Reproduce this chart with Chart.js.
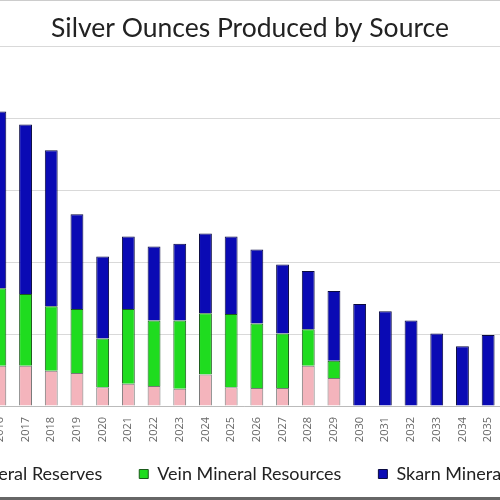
<!DOCTYPE html>
<html>
<head>
<meta charset="utf-8">
<script src="https://cdn.jsdelivr.net/npm/chart.js@4.4.1/dist/chart.umd.min.js"></script>
<style>
    html, body { margin: 0; padding: 0; background: #fff; overflow: hidden; }
    #frame { position: relative; width: 500px; height: 500px; overflow: hidden; border-top: 1px solid #ccc; box-sizing: border-box; border-bottom: 3px solid #666; }
    #wrap { position: absolute; left: -130px; top: 0; width: 760px; height: 492px; }
</style>
</head>
<body>
<div id="frame">
    <div id="wrap"><canvas id="silverChart" width="760" height="492"></canvas></div>
</div>
<script>
    // Years along the bottom (chart is cropped at both sides)
    const years = ['2016', '2017', '2018', '2019', '2020', '2021', '2022', '2023', '2024', '2025',
                   '2026', '2027', '2028', '2029', '2030', '2031', '2032', '2033', '2034', '2035'];

    // Ounces, in millions (y labels are cut off)
    const veinReserves  = [0.56, 0.56, 0.49, 0.46, 0.26, 0.31, 0.28, 0.24, 0.44, 0.26,
                           0.25, 0.25, 0.56, 0.39, 0, 0, 0, 0, 0, 0];
    const veinResources = [1.08, 1.00, 0.90, 0.89, 0.68, 1.04, 0.91, 0.95, 0.85, 1.02,
                           0.90, 0.76, 0.51, 0.24, 0, 0, 0, 0, 0, 0];
    const skarnResources = [2.46, 2.36, 2.17, 1.32, 1.14, 1.01, 1.03, 1.07, 1.11, 1.08,
                            1.03, 0.96, 0.81, 0.97, 1.42, 1.32, 1.19, 1.01, 0.83, 0.99];

    // x axis box is kept short so the legend sits close; let its labels draw below it
    const labelRoom = {
        id: 'labelRoom',
        afterLayout: function(chart) {
            chart.scales.x.bottom = chart.scales.x.top + 45;
        }
    };

    const ctx = document.getElementById('silverChart').getContext('2d');
    const silverChart = new Chart(ctx, {
        type: 'bar',
        data: {
            labels: years,
            datasets: [
                {
                    label: 'Vein Mineral Reserves',
                    data: veinReserves,
                    backgroundColor: '#f4b4bc',
                    borderColor: '#777',
                    borderWidth: 1
                },
                {
                    label: 'Vein Mineral Resources',
                    data: veinResources,
                    backgroundColor: '#1fdc1f',
                    borderColor: '#1a5a1a',
                    borderWidth: 1
                },
                {
                    label: 'Skarn Mineral Resources',
                    data: skarnResources,
                    backgroundColor: '#0a0ab4',
                    borderColor: '#0a0a40',
                    borderWidth: 1
                }
            ]
        },
        options: {
            responsive: false,
            animation: false,
            layout: {
                padding: { left: 0, right: 0, top: 0, bottom: 0 }
            },
            datasets: {
                bar: { categoryPercentage: 1, barPercentage: 0.5 }
            },
            plugins: {
                title: {
                    display: true,
                    text: 'Silver Ounces Produced by Source',
                    color: '#222',
                    font: { family: 'Lato', size: 26.5, weight: 'normal' },
                    padding: { top: 12, bottom: 2 }
                },
                legend: {
                    position: 'bottom',
                    labels: {
                        color: '#222',
                        font: { family: 'Lato', size: 18 },
                        boxWidth: 9,
                        boxHeight: 9,
                        padding: 37
                    }
                },
                tooltip: { enabled: false }
            },
            scales: {
                x: {
                    stacked: true,
                    grid: { display: false },
                    border: { color: '#bbb' },
                    ticks: {
                        color: '#666',
                        font: { family: 'Open Sans', size: 11 },
                        minRotation: 90,
                        maxRotation: 90,
                        autoSkip: false
                    },
                    afterFit: function(scale) { scale.height = 22; }
                },
                y: {
                    stacked: true,
                    min: 0,
                    max: 5,
                    ticks: { display: false, stepSize: 1 },
                    grid: { color: '#d9d9d9', drawTicks: false },
                    border: { display: false },
                    // left part of the chart is cut off in the picture
                    afterFit: function(scale) { scale.width = 117; }
                },
                yRight: {
                    position: 'right',
                    display: true,
                    grid: { display: false },
                    border: { display: false },
                    ticks: { display: false },
                    afterFit: function(scale) { scale.width = 129; }
                }
            }
        },
        plugins: [labelRoom]
    });
</script>
</body>
</html>
